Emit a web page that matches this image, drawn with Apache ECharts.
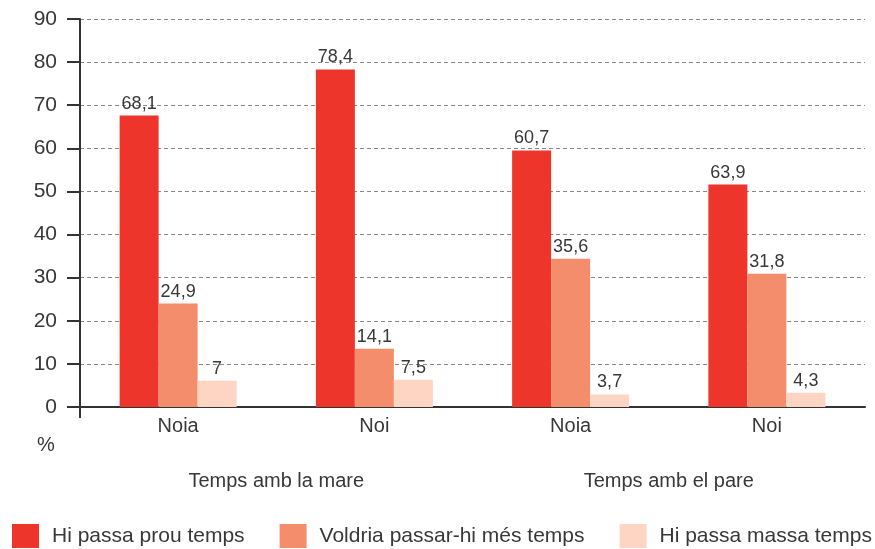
<!DOCTYPE html>
<html>
<head>
<meta charset="utf-8">
<script src="https://cdn.jsdelivr.net/npm/echarts@6/dist/echarts.min.js"></script>
<style>
  html, body { margin: 0; padding: 0; background: #fff; }
  #chart { width: 875px; height: 549px; }
</style>
</head>
<body>
<div id="chart"></div>
<script>
// categories
const categories = ['Noia', 'Noi', 'Noia', 'Noi'];
const groups = ['Temps amb la mare', 'Temps amb el pare'];
const seriesNames = ['Hi passa prou temps', 'Voldria passar-hi més temps', 'Hi passa massa temps'];

// bar heights as drawn in the picture
const prouValues = [67.6, 78.3, 59.5, 51.6];
const mesValues = [24.0, 13.5, 34.4, 30.9];
const massaValues = [6.1, 6.3, 2.9, 3.3];

// printed labels above the bars
const prouLabels = ['68,1', '78,4', '60,7', '63,9'];
const mesLabels = ['24,9', '14,1', '35,6', '31,8'];
const massaLabels = ['7', '7,5', '3,7', '4,3'];

const yTicks = [0, 10, 20, 30, 40, 50, 60, 70, 80, 90];

const colors = ['#ee352b', '#f48d6c', '#fdd5c2'];
const font = 'Liberation Sans, Arial, sans-serif';
const textColor = '#383838';

const chart = echarts.init(document.getElementById('chart'));

// helper: one bar series
const makeSeries = (name, data, labels, color) => ({
  name: name,
  type: 'bar',
  data: data,
  barWidth: 39,
  barGap: 0,
  itemStyle: { color: color },
  label: {
    show: true,
    position: 'top',
    distance: 3,
    fontFamily: font,
    fontSize: 18,
    color: textColor,
    formatter: (p) => labels[p.dataIndex]
  }
});

const option = {
  animation: false,
  textStyle: { fontFamily: font },
  grid: { left: 80, right: 10, top: 19, bottom: 142 },
  legend: {
    left: 12,
    top: 524,
    width: 863,
    padding: 0,
    itemWidth: 27,
    itemHeight: 24,
    itemGap: 35,
    icon: 'rect',
    textStyle: { fontFamily: font, fontSize: 21, color: textColor, padding: [0, 0, 0, 8] },
    data: seriesNames
  },
  xAxis: [
    {
      type: 'category',
      data: categories,
      position: 'bottom',
      axisLine: { lineStyle: { color: '#333', width: 2 } },
      axisTick: { show: false },
      axisLabel: { fontFamily: font, fontSize: 20, color: textColor, margin: 9 }
    },
    {
      type: 'category',
      data: groups,
      position: 'bottom',
      axisLine: { show: false },
      axisTick: { show: false },
      axisLabel: { fontFamily: font, fontSize: 20, color: textColor, margin: 64 }
    }
  ],
  yAxis: {
    type: 'value',
    min: yTicks[0],
    max: yTicks[yTicks.length - 1],
    interval: 10,
    name: '%',
    nameLocation: 'start',
    nameGap: 28,
    nameTextStyle: { fontFamily: font, fontSize: 20, color: textColor, padding: [0, 68, 0, 0] },
    axisLine: { show: true, lineStyle: { color: '#333', width: 2 } },
    axisTick: { show: true, length: 13, lineStyle: { color: '#333', width: 2 } },
    axisLabel: { fontFamily: font, fontSize: 21, color: textColor, margin: 23 },
    splitLine: { lineStyle: { color: '#888', width: 1, type: [4, 3] } }
  },
  series: [
    makeSeries(seriesNames[0], prouValues, prouLabels, colors[0]),
    makeSeries(seriesNames[1], mesValues, mesLabels, colors[1]),
    makeSeries(seriesNames[2], massaValues, massaLabels, colors[2])
  ]
};

chart.setOption(option);

// y axis line runs a little below zero, like in the original
const y0 = chart.convertToPixel({ yAxisIndex: 0 }, 0);
const xLeft = option.grid.left;
chart.setOption({
  graphic: [{
    type: 'line',
    shape: { x1: xLeft, y1: y0, x2: xLeft, y2: y0 + 11 },
    style: { stroke: '#333', lineWidth: 2 }
  }]
});
</script>
</body>
</html>
